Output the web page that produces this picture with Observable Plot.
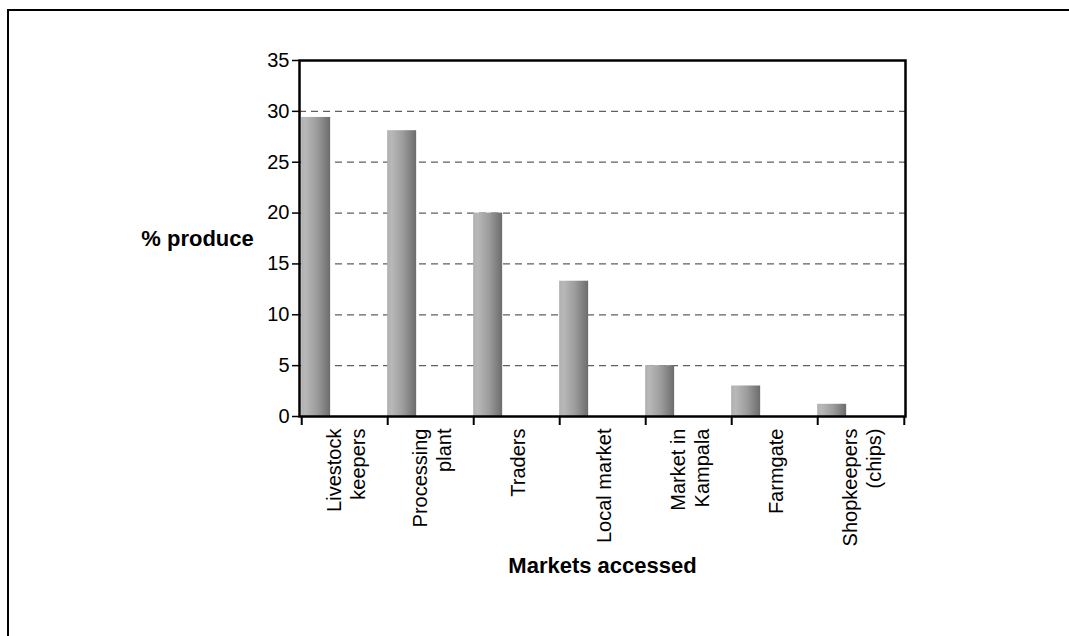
<!DOCTYPE html>
<html>
<head>
<meta charset="utf-8">
<script src="https://cdn.jsdelivr.net/npm/d3@7"></script>
<script src="https://cdn.jsdelivr.net/npm/@observablehq/plot@0.6"></script>
<style>
  html, body { margin: 0; padding: 0; background: white; overflow: hidden; }
  #wrap { position: relative; width: 1069px; height: 636px; }
  #border { position: absolute; left: 7px; top: 9px; width: 2000px; height: 2000px;
            border-left: 2px solid black; border-top: 2px solid black; pointer-events: none; }
  #chart { position: absolute; left: 0; top: 0; }
</style>
</head>
<body>
<div id="wrap"><div id="chart"></div><div id="border"></div></div>
<script>
const categories = ["Livestock\nkeepers", "Processing\nplant", "Traders", "Local market", "Market in\nKampala", "Farmgate", "Shopkeepers\n(chips)"];
const values = [29.4, 28.1, 20.0, 13.3, 5.0, 3.0, 1.2];
const yTicks = [0, 5, 10, 15, 20, 25, 30, 35];
const gridLines = [5, 10, 15, 20, 25, 30];
const yLabel = "% produce";
const xLabel = "Markets accessed";

const data = categories.map((c, i) => ({cat: c, val: values[i]}));

const W = 1069, H = 636;
const mL = 299, mR = 164, mT = 60, mB = 220;
const step = (W - mL - mR) / categories.length;

const defs = () => {
  const d = d3.create("svg:defs");
  const g = d.append("linearGradient").attr("id", "barGrad")
    .attr("x1", 0).attr("x2", 1).attr("y1", 0).attr("y2", 0);
  [[0, "#b0b0b0"], [0.15, "#b8b8b8"], [0.55, "#9c9c9c"], [1, "#6c6c6c"]].forEach(([o, c]) =>
    g.append("stop").attr("offset", o).attr("stop-color", c));
  return d.node();
};

const chart = Plot.plot({
  width: W, height: H,
  marginLeft: mL, marginRight: mR, marginTop: mT, marginBottom: mB,
  style: {background: "transparent", fontFamily: "'Liberation Sans', Arial, sans-serif", fontSize: "19px", color: "black"},
  x: {domain: categories, paddingInner: 2/3, paddingOuter: 1/3, axis: null},
  y: {domain: [0, 35], axis: null},
  marks: [
    defs,
    Plot.ruleY(gridLines, {stroke: "#606060", strokeWidth: 1.2, strokeDasharray: "7,5"}),
    Plot.barY(data, {x: "cat", y: "val", fill: "url(#barGrad)", dx: -step / 3}),
    Plot.axisY({ticks: yTicks, tickSize: 7, tickPadding: 3, strokeWidth: 1.5, fontSize: 20, label: null}),
    Plot.axisX({ticks: categories, tickSize: 9, dx: -step / 2, text: null, strokeWidth: 2, label: null}),
    Plot.axisX({ticks: [categories[categories.length - 1]], tickSize: 9, dx: step / 2, text: null, strokeWidth: 2, label: null}),
    Plot.text(categories, {x: d => d, frameAnchor: "bottom", dy: 12, rotate: -90, textAnchor: "end", lineAnchor: "middle", lineHeight: 1.22, fontSize: 20, fill: "black"}),
    Plot.frame({stroke: "black", strokeWidth: 2.5}),
    Plot.text([yLabel], {frameAnchor: "left", dx: -102, textAnchor: "middle", fontWeight: "bold", fontSize: 22, fill: "black"}),
    Plot.text([xLabel], {frameAnchor: "bottom", dy: 156, textAnchor: "middle", fontWeight: "bold", fontSize: 22, fill: "black"})
  ]
});
document.getElementById("chart").appendChild(chart);
</script>
</body>
</html>
